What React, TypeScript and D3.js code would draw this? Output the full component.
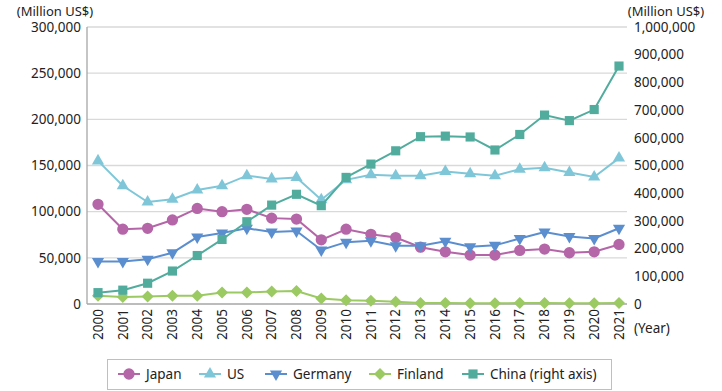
import { line, scaleLinear, scalePoint, symbol, symbolCircle, symbolSquare, symbolTriangle } from 'd3'

const years = [
  '2000', '2001', '2002', '2003', '2004', '2005', '2006', '2007', '2008', '2009', '2010',
  '2011', '2012', '2013', '2014', '2015', '2016', '2017', '2018', '2019', '2020', '2021',
]

// million US$, left axis
const japan = [108000, 81000, 82000, 91000, 103500, 100000, 102500, 93000, 92000, 69500, 81000, 75500, 72000, 61500, 56500, 53000, 53000, 58000, 59500, 55500, 56500, 64500]
const us = [155000, 128000, 110500, 113500, 123500, 128000, 139000, 135500, 137000, 113000, 134500, 140000, 139000, 139000, 143500, 141000, 139000, 146000, 147500, 142500, 137500, 158000]
const germany = [46000, 46000, 48500, 55500, 72500, 77000, 82000, 78000, 79000, 58500, 67000, 68500, 63000, 63000, 68000, 62000, 63500, 71000, 78000, 73000, 71000, 82000]
const finland = [9000, 7500, 8000, 9000, 9000, 12500, 12500, 13500, 14000, 6000, 4000, 3500, 2500, 1200, 1000, 800, 800, 1000, 1000, 800, 800, 1000]
// million US$, right axis
const china = [41000, 50000, 75000, 119000, 175000, 233000, 297000, 357000, 396000, 355000, 457000, 505000, 553000, 604000, 606000, 603000, 556000, 612000, 682000, 662000, 702000, 859000]

const leftTicks = [0, 50000, 100000, 150000, 200000, 250000, 300000]
const rightTicks = [0, 100000, 200000, 300000, 400000, 500000, 600000, 700000, 800000, 900000, 1000000]

const font = '"Noto Sans", sans-serif'
const fmt = (v: number) => v.toLocaleString('en-US')

type Series = { name: string; values: number[]; color: string; shape: string; right?: boolean }

const series: Series[] = [
  { name: 'Japan', values: japan, color: '#b466a8', shape: 'circle' },
  { name: 'US', values: us, color: '#7fc7d8', shape: 'up' },
  { name: 'Germany', values: germany, color: '#5b8ecf', shape: 'down' },
  { name: 'Finland', values: finland, color: '#9bc962', shape: 'diamond' },
  { name: 'China (right axis)', values: china, color: '#52ac9e', shape: 'square', right: true },
]

function Marker({ x, y, shape, color }: { x: number; y: number; shape: string; color: string }) {
  let d = ''
  let rot = 0
  if (shape === 'circle') d = symbol(symbolCircle, 100)() as string
  else if (shape === 'up') d = symbol(symbolTriangle, 64)() as string
  else if (shape === 'down') {
    d = symbol(symbolTriangle, 64)() as string
    rot = 180
  } else if (shape === 'diamond') {
    d = symbol(symbolSquare, 72)() as string
    rot = 45
  } else d = symbol(symbolSquare, 84)() as string
  return <path d={d} transform={`translate(${x},${y}) rotate(${rot})`} fill={color} />
}

export default function App() {
  const W = 722
  const H = 391
  const plotLeft = 87
  const plotRight = 627
  const x = scalePoint<string>().domain(years).range([98, 619])
  const yL = scaleLinear().domain([0, 300000]).range([304, 27])
  const yR = scaleLinear().domain([0, 1000000]).range([304, 27])

  const legendItems = [
    { lx: 118, tx: 146 },
    { lx: 199, tx: 227 },
    { lx: 265, tx: 293 },
    { lx: 369, tx: 397 },
    { lx: 462, tx: 490 },
  ]

  return (
    <svg width={W} height={H} style={{ position: 'absolute', left: 0, top: 0 }} fontFamily={font}>
      <rect width={W} height={H} fill="#fff" />
      {/* grid */}
      {leftTicks.slice(1).map((t) => (
        <line key={t} x1={plotLeft} x2={plotRight} y1={yL(t)} y2={yL(t)} stroke="#d9d9d9" strokeWidth={1.3} />
      ))}
      <line x1={plotLeft} x2={plotLeft} y1={yL(300000)} y2={yL(0)} stroke="#a6a6a6" strokeWidth={1.3} />
      <line x1={plotLeft} x2={plotRight} y1={yL(0)} y2={yL(0)} stroke="#a6a6a6" strokeWidth={1.3} />

      {/* left axis */}
      {leftTicks.map((t) => (
        <text key={t} x={81} y={yL(t)} dy="0.35em" textAnchor="end" fontSize={13.5} fill="#222">
          {fmt(t)}
        </text>
      ))}
      <text x={55} y={11.5} dy="0.35em" textAnchor="middle" fontSize={13} fill="#222">
        (Million US$)
      </text>

      {/* right axis */}
      {rightTicks.map((t) => (
        <text key={t} x={634} y={yR(t)} dy="0.35em" fontSize={13.5} fill="#222">
          {fmt(t)}
        </text>
      ))}
      <text x={666} y={11.5} dy="0.35em" textAnchor="middle" fontSize={13} fill="#222">
        (Million US$)
      </text>
      <text x={634} y={328} dy="0.35em" fontSize={13.5} fill="#222">
        (Year)
      </text>

      {/* x axis */}
      {years.map((yr) => (
        <text
          key={yr}
          transform={`translate(${x(yr)},309) rotate(-90)`}
          dy="0.35em"
          textAnchor="end"
          fontSize={13.5}
          fill="#222"
        >
          {yr}
        </text>
      ))}

      {/* series */}
      {series.map((s) => {
        const y = s.right ? yR : yL
        const path = line<number>()
          .x((_, i) => x(years[i]) as number)
          .y((v) => y(v))(s.values) as string
        return (
          <g key={s.name}>
            <path d={path} fill="none" stroke={s.color} strokeWidth={2} />
            {s.values.map((v, i) => (
              <Marker key={i} x={x(years[i]) as number} y={y(v)} shape={s.shape} color={s.color} />
            ))}
          </g>
        )
      })}

      {/* legend */}
      <rect x={107.5} y={359.5} width={504} height={30} fill="#fff" stroke="#bfbfbf" strokeWidth={1} />
      {series.map((s, i) => {
        const it = legendItems[i]
        return (
          <g key={s.name}>
            <line x1={it.lx} x2={it.lx + 22} y1={374} y2={374} stroke={s.color} strokeWidth={2} />
            <Marker x={it.lx + 11} y={374} shape={s.shape} color={s.color} />
            <text x={it.tx} y={374} dy="0.35em" fontSize={13.5} fill="#222">
              {s.name}
            </text>
          </g>
        )
      })}
    </svg>
  )
}
